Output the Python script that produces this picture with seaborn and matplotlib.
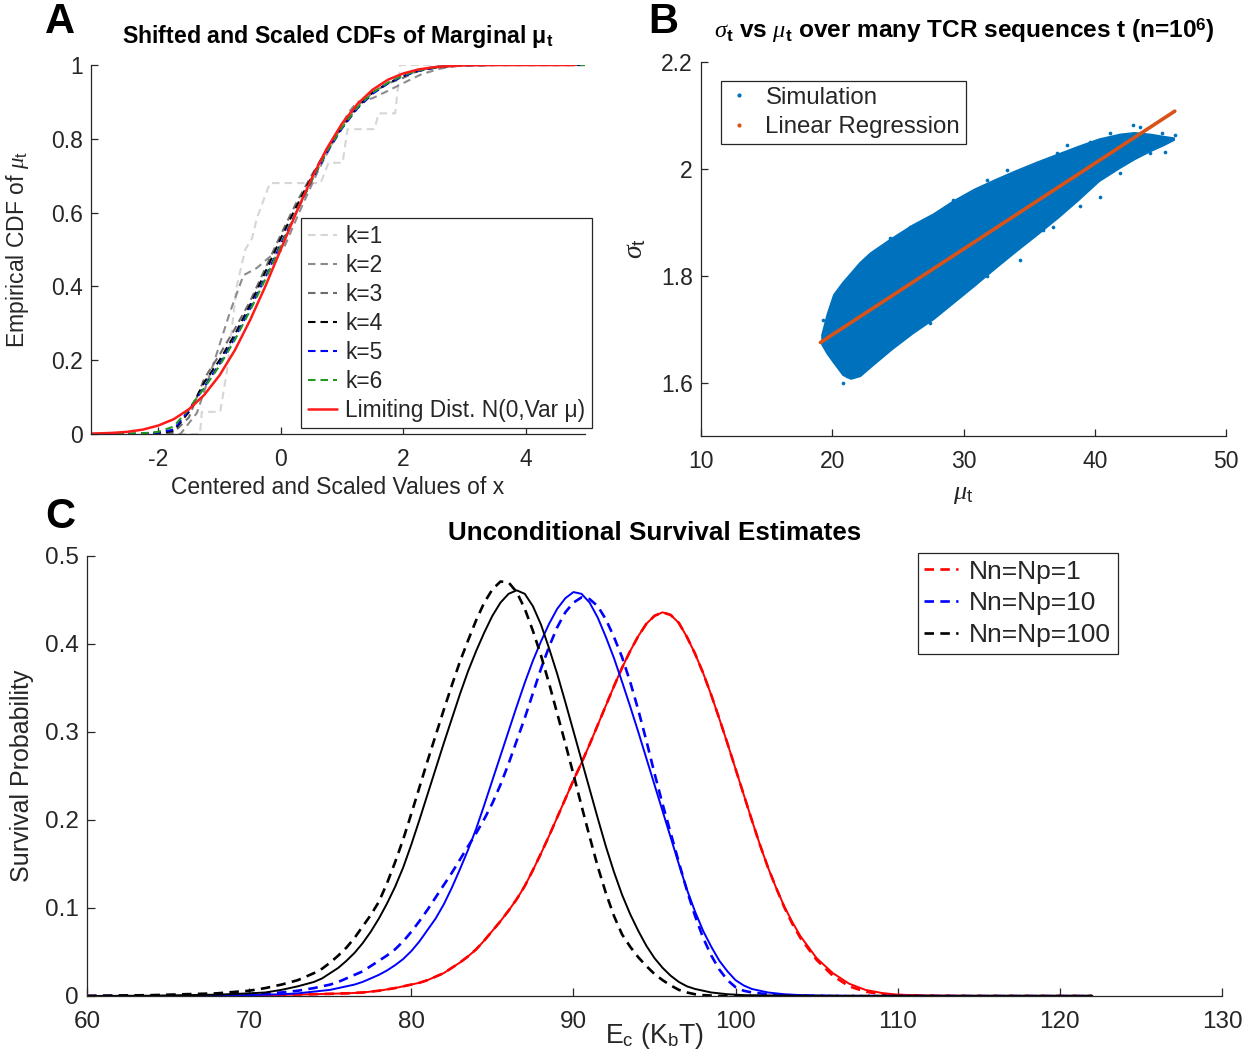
import numpy as np
import pandas as pd
import matplotlib
matplotlib.use("Agg")
import matplotlib.pyplot as plt
from matplotlib.lines import Line2D
import seaborn as sns

# ---------------- Panel A: shifted / scaled empirical CDFs ----------------
cdf_x = [-3.1, -2.75, -2.5, -2.25, -2.0, -1.75, -1.5, -1.25, -1.0, -0.75, -0.5, -0.25,
         0.0, 0.25, 0.5, 0.75, 1.0, 1.25, 1.5, 1.75, 2.0, 2.25, 2.5, 2.75, 3.0, 3.5, 4.0, 4.97]
cdf_k3 = [0.0, 0.0, 0.0, 0.0, 0.001, 0.004, 0.045, 0.15, 0.215, 0.285, 0.36, 0.45,
          0.54, 0.625, 0.70, 0.77, 0.835, 0.89, 0.925, 0.95, 0.965, 0.985, 0.995, 1.0, 1.0, 1.0, 1.0, 1.0]
cdf_k4 = [0.0, 0.0, 0.0, 0.001, 0.003, 0.008, 0.06, 0.14, 0.20, 0.27, 0.35, 0.44,
          0.53, 0.615, 0.695, 0.77, 0.83, 0.885, 0.925, 0.95, 0.97, 0.984, 0.992, 0.997, 0.999, 1.0, 1.0, 1.0]
cdf_k5 = [0.0, 0.0, 0.0, 0.001, 0.004, 0.012, 0.065, 0.128, 0.19, 0.26, 0.34, 0.425,
          0.515, 0.60, 0.685, 0.762, 0.828, 0.882, 0.922, 0.95, 0.97, 0.984, 0.992, 0.997, 0.999, 1.0, 1.0, 1.0]
cdf_k6 = [0.0, 0.0, 0.001, 0.002, 0.006, 0.02, 0.068, 0.125, 0.185, 0.255, 0.335, 0.42,
          0.51, 0.60, 0.685, 0.765, 0.83, 0.885, 0.925, 0.952, 0.972, 0.985, 0.993, 0.997, 0.999, 1.0, 1.0, 1.0]
cdf_limit = [0.001, 0.003, 0.006, 0.012, 0.023, 0.040, 0.067, 0.106, 0.159, 0.227, 0.309, 0.401,
             0.500, 0.599, 0.691, 0.773, 0.841, 0.894, 0.933, 0.960, 0.977, 0.988, 0.994, 0.997, 0.999, 1.0, 1.0, 1.0]

k1_x = [-3.1, -1.32, -1.29, -0.99, -0.88, -0.72, -0.58, -0.47, -0.39, -0.20, -0.18,
        0.65, 0.78, 1.01, 1.09, 1.53, 1.60, 1.87, 1.95, 4.97]
k1_y = [0.0, 0.0, 0.06, 0.06, 0.17, 0.40, 0.50, 0.53, 0.585, 0.67, 0.68,
        0.68, 0.735, 0.735, 0.826, 0.826, 0.869, 0.869, 1.0, 1.0]

k2_x = [-3.1, -1.64, -1.37, -1.10, -0.83, -0.61, -0.39, -0.18, 0.04, 0.3, 0.6, 0.85,
        1.1, 1.25, 1.5, 1.75, 2.05, 2.3, 2.6, 3.0, 4.97]
k2_y = [0.0, 0.0, 0.057, 0.19, 0.33, 0.43, 0.45, 0.48, 0.50, 0.60, 0.71, 0.79,
        0.87, 0.90, 0.91, 0.93, 0.955, 0.975, 0.99, 1.0, 1.0]

cdf_labels = ["k=1", "k=2", "k=3", "k=4", "k=5", "k=6", "Limiting Dist. N(0,Var μ)"]

# ---------------- Panel B: sigma_t vs mu_t ----------------
cloud_mu = [19.2, 19.6, 20.1, 20.8, 21.4, 22.1, 22.9, 24.5, 26.1, 27.7, 29.2, 30.8,
            32.4, 34.0, 35.6, 37.2, 38.7, 40.3, 41.9, 43.0, 44.2, 45.2, 46.0]
cloud_hi = [1.69, 1.728, 1.765, 1.788, 1.805, 1.825, 1.843, 1.870, 1.895, 1.916, 1.940, 1.962,
            1.980, 1.997, 2.013, 2.028, 2.042, 2.056, 2.065, 2.068, 2.065, 2.061, 2.058]
cloud_lo = [1.672, 1.655, 1.638, 1.615, 1.608, 1.613, 1.630, 1.663, 1.693, 1.720, 1.750, 1.782,
            1.815, 1.847, 1.878, 1.910, 1.942, 1.978, 2.003, 2.019, 2.034, 2.045, 2.055]
edge_mu = [19.32, 19.45, 20.08, 20.34, 20.59, 20.84, 21.1, 21.86, 22.24, 22.62, 22.88, 23.39,
           24.4, 25.16, 25.92, 27.45, 27.96, 29.22, 29.98, 31.77, 31.77, 33.29, 34.3, 36.08,
           36.84, 37.1, 37.86, 38.88, 39.64, 40.4, 41.16, 41.92, 42.94, 44.2, 45.1, 45.35,
           46.11, 44.46, 43.45]
edge_sigma = [1.718, 1.693, 1.733, 1.752, 1.630, 1.599, 1.612, 1.811, 1.817, 1.827, 1.637, 1.655,
              1.870, 1.693, 1.892, 1.712, 1.911, 1.942, 1.768, 1.799, 1.979, 1.998, 1.830, 1.886,
              1.892, 2.029, 2.045, 1.930, 2.051, 1.948, 2.067, 1.992, 2.082, 2.029, 2.067, 2.032,
              2.064, 2.048, 2.079]
reg_mu = [19.1, 46.1]
reg_sigma = [1.675, 2.108]

# ---------------- Panel C: survival estimates ----------------
# energy grid: coarse tails, half-unit steps through the bulk
ec = np.concatenate([[60, 64, 68, 70, 71, 72, 73], np.arange(74, 104.01, 0.5),
                     [105, 106, 107, 108, 109, 110, 112, 115, 122]])

surv_1 = ([0, 0, 0.0003, 0.0006, 0.001, 0.0013, 0.0017]
          + [0.002, 0.0023, 0.0025, 0.0028, 0.003, 0.0035, 0.004, 0.005, 0.006, 0.0075, 0.009, 0.011]
          + [0.013, 0.015, 0.018, 0.022, 0.026, 0.032, 0.038, 0.045, 0.053, 0.063, 0.074, 0.085]
          + [0.097, 0.11, 0.125, 0.143, 0.162, 0.182, 0.203, 0.224, 0.245, 0.265, 0.286, 0.308]
          + [0.33, 0.352, 0.373, 0.392, 0.409, 0.423, 0.432, 0.436, 0.433, 0.424, 0.408, 0.389]
          + [0.367, 0.342, 0.315, 0.287, 0.258, 0.229, 0.2, 0.172, 0.146, 0.123, 0.102, 0.084]
          + [0.068]
          + [0.043, 0.026, 0.014, 0.007, 0.0035, 0.0015, 0.0004, 0, 0])
surv_1_est = ([0, 0, 0.0003, 0.0006, 0.001, 0.0013, 0.0017]
              + [0.002, 0.0023, 0.0025, 0.0028, 0.003, 0.0035, 0.004, 0.005, 0.006, 0.0075, 0.009, 0.011]
              + [0.013, 0.015, 0.018, 0.022, 0.026, 0.032, 0.038, 0.045, 0.053, 0.063, 0.074, 0.085]
              + [0.097, 0.11, 0.125, 0.143, 0.162, 0.182, 0.203, 0.224, 0.245, 0.265, 0.286, 0.308]
              + [0.33, 0.352, 0.373, 0.392, 0.409, 0.423, 0.432, 0.436, 0.433, 0.424, 0.408, 0.389]
              + [0.367, 0.342, 0.315, 0.287, 0.258, 0.229, 0.2, 0.172, 0.146, 0.123, 0.101, 0.082]
              + [0.066]
              + [0.041, 0.023, 0.011, 0.005, 0.002, 0.001, 0.0002, 0, 0])
surv_10 = ([0, 0.0001, 0.0005, 0.001, 0.0015, 0.002, 0.003]
           + [0.005, 0.006, 0.007, 0.009, 0.011, 0.013, 0.016, 0.02, 0.024, 0.029, 0.035, 0.042]
           + [0.051, 0.062, 0.075, 0.088, 0.104, 0.123, 0.144, 0.166, 0.19, 0.217, 0.245, 0.273]
           + [0.301, 0.329, 0.356, 0.381, 0.403, 0.423, 0.44, 0.452, 0.459, 0.457, 0.447, 0.43]
           + [0.408, 0.384, 0.357, 0.329, 0.3, 0.27, 0.24, 0.21, 0.18, 0.15, 0.121, 0.096]
           + [0.074, 0.056, 0.04, 0.028, 0.018, 0.012, 0.008, 0.006, 0.004, 0.003, 0.002, 0.0015]
           + [0.001]
           + [0.0005, 0.0003, 0, 0, 0, 0, 0, 0, 0])
surv_10_est = ([0, 0.0004, 0.001, 0.002, 0.003, 0.004, 0.006]
               + [0.009, 0.011, 0.013, 0.016, 0.02, 0.024, 0.028, 0.034, 0.04, 0.046, 0.053, 0.062]
               + [0.073, 0.085, 0.098, 0.112, 0.126, 0.14, 0.155, 0.17, 0.185, 0.201, 0.219, 0.24]
               + [0.264, 0.29, 0.316, 0.344, 0.372, 0.397, 0.419, 0.436, 0.447, 0.453, 0.451, 0.443]
               + [0.428, 0.408, 0.385, 0.357, 0.325, 0.29, 0.253, 0.218, 0.185, 0.152, 0.12, 0.091]
               + [0.066, 0.046, 0.03, 0.018, 0.01, 0.006, 0.004, 0.003, 0.002, 0.0015, 0.001, 0.0007]
               + [0.0005]
               + [0.0003, 0, 0, 0, 0, 0, 0, 0, 0])
surv_100 = ([0, 0.0003, 0.0015, 0.003, 0.004, 0.007, 0.011]
            + [0.016, 0.02, 0.026, 0.032, 0.04, 0.049, 0.06, 0.073, 0.088, 0.105, 0.124, 0.146]
            + [0.172, 0.2, 0.229, 0.258, 0.287, 0.315, 0.343, 0.369, 0.392, 0.413, 0.432, 0.447]
            + [0.457, 0.461, 0.457, 0.443, 0.422, 0.395, 0.366, 0.334, 0.301, 0.268, 0.235, 0.202]
            + [0.17, 0.141, 0.115, 0.093, 0.074, 0.057, 0.043, 0.032, 0.023, 0.016, 0.011, 0.008]
            + [0.006, 0.004, 0.003, 0.002, 0.0015, 0.001, 0.0008, 0.0006, 0.0005, 0.0004, 0.0003, 0.0002]
            + [0.0001]
            + [0, 0, 0, 0, 0, 0, 0, 0, 0])
surv_100_est = ([0, 0.001, 0.003, 0.006, 0.009, 0.013, 0.018]
                + [0.026, 0.031, 0.038, 0.046, 0.055, 0.066, 0.079, 0.092, 0.107, 0.128, 0.152, 0.178]
                + [0.207, 0.237, 0.267, 0.296, 0.325, 0.353, 0.38, 0.404, 0.427, 0.447, 0.462, 0.471]
                + [0.47, 0.459, 0.44, 0.415, 0.387, 0.355, 0.321, 0.287, 0.252, 0.216, 0.181, 0.147]
                + [0.117, 0.091, 0.07, 0.056, 0.044, 0.034, 0.025, 0.018, 0.012, 0.007, 0.004, 0.002]
                + [0.001, 0.0005, 0, 0, 0, 0, 0, 0, 0, 0, 0, 0]
                + [0]
                + [0, 0, 0, 0, 0, 0, 0, 0, 0])
surv_labels = ["Nn=Np=1", "Nn=Np=10", "Nn=Np=100"]

# ---------------- style ----------------
sns.set_theme(style="ticks")
plt.rcParams["font.family"] = ["Liberation Sans", "DejaVu Sans"]
plt.rcParams["mathtext.fontset"] = "custom"
plt.rcParams["mathtext.rm"] = "Liberation Sans"
plt.rcParams["mathtext.it"] = "Liberation Serif:italic"
plt.rcParams["mathtext.bf"] = "Liberation Sans:bold"
plt.rcParams["axes.unicode_minus"] = False
axis_col = "#262626"
plt.rcParams.update({
    "axes.edgecolor": axis_col, "axes.linewidth": 0.9,
    "xtick.color": axis_col, "ytick.color": axis_col,
    "xtick.labelcolor": axis_col, "ytick.labelcolor": axis_col,
    "text.color": axis_col, "axes.labelcolor": axis_col,
    "xtick.direction": "in", "ytick.direction": "in",
    "xtick.major.width": 0.9, "ytick.major.width": 0.9,
})

W, H = 1253, 1057
fig = plt.figure(figsize=(W / 100, H / 100), dpi=100)


def frac_box(l, t, r, b):
    return [l / W, 1 - b / H, (r - l) / W, (b - t) / H]


axA = fig.add_axes(frac_box(91, 65, 585, 434))
axB = fig.add_axes(frac_box(701, 62, 1226, 436))
axC = fig.add_axes(frac_box(87, 556, 1222, 996))

dash = (3.6, 2.4)

# ---- Panel A ----
lw_a = 1.5
a_series = [(k1_x, k1_y, "#d6d6d6", cdf_labels[0]),
            (k2_x, k2_y, "#8c8c8c", cdf_labels[1]),
            (cdf_x, cdf_k3, "#6e6e6e", cdf_labels[2]),
            (cdf_x, cdf_k4, "#000000", cdf_labels[3]),
            (cdf_x, cdf_k5, "#0000ff", cdf_labels[4]),
            (cdf_x, cdf_k6, "#1f9a1f", cdf_labels[5])]
for xs, ys, col, lab in a_series:
    sns.lineplot(x=xs, y=ys, ax=axA, color=col, lw=lw_a, estimator=None, sort=False, label=lab)
    axA.lines[-1].set_dashes(dash)
sns.lineplot(x=cdf_x[:-1] + [4.8], y=cdf_limit, ax=axA, color="#ff1a1a", lw=1.8,
             estimator=None, sort=False, label=cdf_labels[6])

axA.set_xlim(-3.1, 4.97)
axA.set_ylim(0, 1)
axA.set_xticks([-2, 0, 2, 4])
axA.set_yticks([0, 0.2, 0.4, 0.6, 0.8, 1.0])
axA.set_yticklabels(["0", "0.2", "0.4", "0.6", "0.8", "1"])
axA.tick_params(axis="x", labelsize=16.5, length=5, pad=10)
axA.tick_params(axis="y", labelsize=16.5, length=5, pad=6)
axA.set_xlabel("Centered and Scaled Values of x", fontsize=16.5)
axA.set_ylabel(r"Empirical CDF of $\mu_\mathrm{t}$", fontsize=16.5)
axA.xaxis.set_label_coords(0.5, -0.115)
axA.yaxis.set_label_coords(-0.122, 0.5)
legA = axA.legend(loc="lower right", bbox_to_anchor=(1.015, 0.015), fontsize=16.4,
                  frameon=True, fancybox=False, edgecolor=axis_col, framealpha=1,
                  handlelength=1.3, handletextpad=0.35, labelspacing=0.26, borderpad=0.3,
                  borderaxespad=0)
legA.get_frame().set_linewidth(0.9)
sns.despine(ax=axA)

# ---- Panel B ----
blue = "#0072BD"
orange = "#D95319"
axB.fill_between(cloud_mu, cloud_lo, cloud_hi, color=blue, lw=1.5, edgecolor=blue)
sns.scatterplot(x=edge_mu, y=edge_sigma, ax=axB, color=blue, s=7, linewidth=0)
sns.lineplot(x=reg_mu, y=reg_sigma, ax=axB, color=orange, lw=2.6, estimator=None, sort=False)
axB.set_xlim(10, 50)
axB.set_ylim(1.5, 2.2)
axB.set_xticks([10, 20, 30, 40, 50])
axB.set_yticks([1.6, 1.8, 2.0, 2.2])
axB.set_yticklabels(["1.6", "1.8", "2", "2.2"])
axB.tick_params(axis="x", labelsize=16.5, length=5, pad=10)
axB.tick_params(axis="y", labelsize=16.5, length=5, pad=6)
axB.set_xlabel(r"$\mu_\mathrm{t}$", fontsize=19)
axB.set_ylabel(r"$\sigma_\mathrm{t}$", fontsize=20)
axB.xaxis.set_label_coords(0.5, -0.122)
axB.yaxis.set_label_coords(-0.1, 0.5)
handlesB = [Line2D([], [], marker=".", ls="none", color=blue, markersize=4),
            Line2D([], [], marker=".", ls="none", color=orange, markersize=4)]
legB = axB.legend(handlesB, ["Simulation", "Linear Regression"], loc="upper left",
                  bbox_to_anchor=(0.038, 0.95), fontsize=17.3, frameon=True, fancybox=False,
                  edgecolor=axis_col, framealpha=1, handlelength=1.0, handletextpad=0.6,
                  labelspacing=0.3, borderpad=0.25, borderaxespad=0)
legB.get_frame().set_linewidth(0.9)
sns.despine(ax=axB)

# ---- Panel C ----
cols = ["#ff0000", "#0000ff", "#000000"]
for est, exact, col, lab in [(surv_1_est, surv_1, cols[0], surv_labels[0]),
                             (surv_10_est, surv_10, cols[1], surv_labels[1]),
                             (surv_100_est, surv_100, cols[2], surv_labels[2])]:
    sns.lineplot(x=ec, y=exact, ax=axC, color=col, lw=1.4, estimator=None, sort=False)
    sns.lineplot(x=ec, y=est, ax=axC, color=col, lw=1.9, estimator=None, sort=False, label=lab)
    axC.lines[-1].set_dashes(dash)
axC.set_xlim(60, 130)
axC.set_ylim(0, 0.5)
axC.set_xticks(range(60, 131, 10))
axC.set_yticks([0, 0.1, 0.2, 0.3, 0.4, 0.5])
axC.set_yticklabels(["0", "0.1", "0.2", "0.3", "0.4", "0.5"])
axC.tick_params(axis="x", labelsize=17.5, length=6, pad=11)
axC.tick_params(axis="y", labelsize=17.5, length=6, pad=6)
axC.set_xlabel(r"E$_\mathrm{c}$ (K$_\mathrm{b}$T)", fontsize=19.2)
axC.set_ylabel("Survival Probability", fontsize=18)
axC.xaxis.set_label_coords(0.5, -0.056)
axC.yaxis.set_label_coords(-0.047, 0.5)
legC = axC.legend(loc="upper right", bbox_to_anchor=(0.908, 1.007), fontsize=19,
                  frameon=True, fancybox=False, edgecolor=axis_col, framealpha=1,
                  handlelength=1.3, handletextpad=0.4, labelspacing=0.3, borderpad=0.25,
                  borderaxespad=0)
legC.get_frame().set_linewidth(0.9)
sns.despine(ax=axC)

# ---- titles and panel letters ----
fig.text(338 / W, 1 - 36 / H, r"Shifted and Scaled CDFs of Marginal μ$_\mathbf{t}$",
         ha="center", va="center", fontsize=16.7, fontweight="bold", color="black")
fig.text(964 / W, 1 - 31 / H,
         r"$\sigma_\mathbf{t}$ vs $\mu_\mathbf{t}$ over many TCR sequences t (n=10$^\mathbf{6}$)",
         ha="center", va="center", fontsize=17.6, fontweight="bold", color="black")
fig.text(655 / W, 1 - 533 / H, "Unconditional Survival Estimates",
         ha="center", va="center", fontsize=18.7, fontweight="bold", color="black")
for letter, (lx, ly) in {"A": (60, 22), "B": (663, 22), "C": (60, 517)}.items():
    fig.text(lx / W, 1 - ly / H, letter, ha="center", va="center", fontsize=30,
             fontweight="bold", color="black")

fig.savefig("out.png", dpi=100)
